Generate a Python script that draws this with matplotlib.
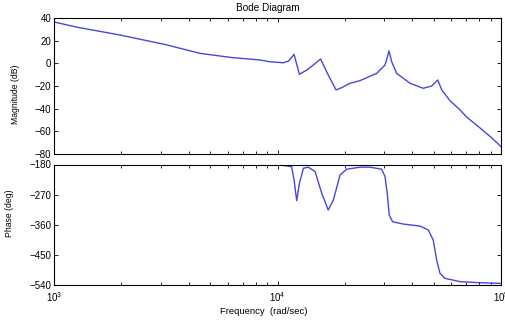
import numpy as np
import matplotlib
matplotlib.use("Agg")
import matplotlib.pyplot as plt
from matplotlib.ticker import LogLocator, NullFormatter, FixedLocator

# Magnitude (dB): log10(frequency) and dB
mag_logf = [3.0, 3.10, 3.295, 3.50, 3.653, 3.80, 3.92, 3.966, 4.026, 4.050, 4.074,
            4.098, 4.131, 4.160, 4.193, 4.227, 4.262, 4.287, 4.324, 4.369, 4.444,
            4.481, 4.499, 4.511, 4.533, 4.593, 4.652, 4.690, 4.717, 4.735, 4.772,
            4.817, 4.847, 4.906, 4.96, 5.0]
mag_db = [36.5, 32.0, 25.0, 16.5, 8.8, 5.0, 3.0, 1.4, 0.5, 2.0, 8.0,
          -9.7, -5.9, -1.5, 3.8, -10.3, -23.5, -21.5, -17.6, -15.3, -8.8,
          -1.5, 10.9, 1.4, -8.8, -17.6, -22.0, -20.0, -14.7, -23.5, -33.0,
          -41.2, -47.5, -57.0, -66.0, -73.5]

# Phase (deg)
ph_logf = [3.0, 4.011, 4.063, 4.074, 4.086, 4.098, 4.116, 4.138, 4.168, 4.198,
           4.227, 4.250, 4.280, 4.310, 4.369, 4.414, 4.466, 4.481, 4.491, 4.500,
           4.515, 4.563, 4.638, 4.675, 4.697, 4.712, 4.727, 4.749, 4.817, 4.90, 5.0]
ph_deg = [-180, -181.5, -186.5, -226, -288, -236, -191, -188, -201, -266,
          -316, -286, -211, -194, -188, -188, -194, -216, -266, -331,
          -351, -358, -364, -376, -406, -465, -505, -520, -530, -533, -535]

mag_yticks = [-80, -60, -40, -20, 0, 20, 40]
ph_yticks = [-540, -450, -360, -270, -180]

plt.rcParams['font.family'] = ['Liberation Sans', 'DejaVu Sans']
line_color = '#4646e0'

fig = plt.figure(figsize=(5.06, 3.24), dpi=100)
W, H = 506.0, 324.0
ax1 = fig.add_axes([54 / W, 1 - 154 / H, (501 - 54) / W, (154 - 18) / H])
ax2 = fig.add_axes([54 / W, 1 - 285 / H, (501 - 54) / W, (285 - 164.5) / H])

ax1.plot(10 ** np.array(mag_logf), mag_db, color=line_color, lw=1.0)
ax2.plot(10 ** np.array(ph_logf), ph_deg, color=line_color, lw=1.0)

for ax in (ax1, ax2):
    ax.set_xscale('log')
    ax.set_xlim(1e3, 1e5)
    ax.xaxis.set_major_locator(LogLocator(base=10, numticks=10))
    ax.xaxis.set_minor_locator(LogLocator(base=10, subs=np.arange(2, 10), numticks=10))
    ax.xaxis.set_minor_formatter(NullFormatter())
    ax.tick_params(which='both', direction='in', top=True, right=True,
                   labelsize=7, length=3, width=0.6, pad=2)
    ax.tick_params(which='minor', length=2.5)
    for s in ax.spines.values():
        s.set_linewidth(0.8)

ax1.set_ylim(-80, 40)
ax1.yaxis.set_major_locator(FixedLocator(mag_yticks))
ax1.set_xticklabels([])
ax1.set_ylabel('Magnitude (dB)', fontsize=6.2)
ax1.yaxis.set_label_coords(-0.076, 0.441)

ax2.set_ylim(-540, -180)
ax2.yaxis.set_major_locator(FixedLocator(ph_yticks))
ax2.set_ylabel('Phase (deg)', fontsize=6.2)
ax2.yaxis.set_label_coords(-0.0895, 0.593)
ax2.tick_params(axis='x', which='major', pad=4)

fig.text(268 / W, 1 - 8 / H, 'Bode Diagram', ha='center', va='center', fontsize=7.2)
fig.text(264 / W, 1 - 311 / H, 'Frequency  (rad/sec)', ha='center', va='center', fontsize=6.8)

fig.savefig('out.png', dpi=100)
